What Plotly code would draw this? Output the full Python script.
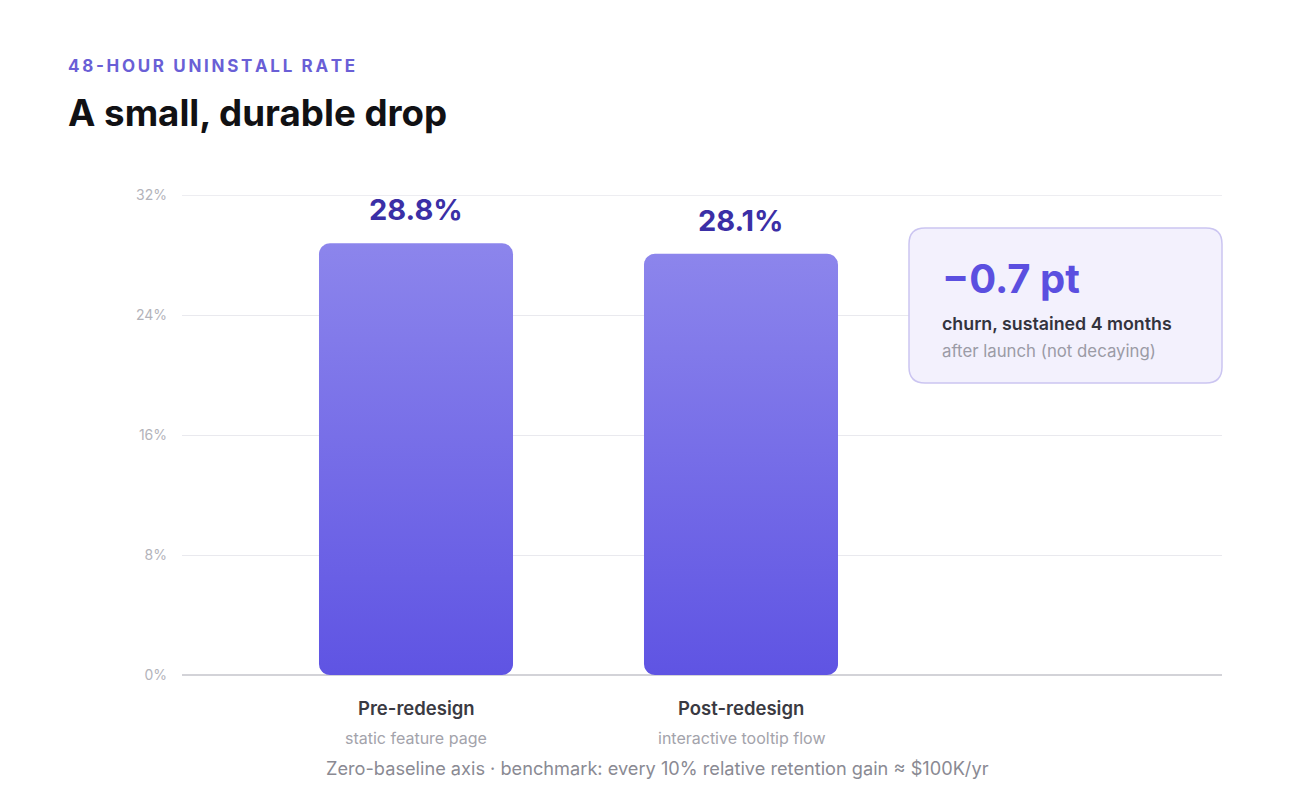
import plotly.graph_objects as go
import math

# ---------------- data ----------------
categories = ["Pre-redesign", "Post-redesign"]
subtitles = ["static feature page", "interactive tooltip flow"]
rates = [28.8, 28.1]
value_labels = ["28.8%", "28.1%"]
y_ticks = [0, 8, 16, 24, 32]
y_tick_labels = ["0%", "8%", "16%", "24%", "32%"]
delta_label = "\u22120.7 pt"
kicker = "48-HOUR UNINSTALL RATE"
title = "A small, durable drop"
callout_line1 = "churn, sustained 4 months"
callout_line2 = "after launch (not decaying)"
footer = "Zero-baseline axis \u00b7 benchmark: every 10% relative retention gain \u2248 $100K/yr"

# ---------------- layout geometry ----------------
W, H = 1300, 806
ML, MR, MT, MB = 182, 78, 195, 131
PW, PH = W - ML - MR, H - MT - MB
X_RANGE = [-0.72, 2.48]
Y_RANGE = [0, 32.02]
px_x = PW / (X_RANGE[1] - X_RANGE[0])
px_y = PH / (Y_RANGE[1] - Y_RANGE[0])
BAR_W = 0.597
RADIUS = 11  # px


def rounded_rect(x0, x1, y0, y1, r):
    rx, ry = r / px_x, r / px_y
    xs, ys = [], []

    def arc(cx, cy, a0, a1, n=10):
        for k in range(n + 1):
            a = a0 + (a1 - a0) * k / n
            xs.append(cx + rx * math.cos(a))
            ys.append(cy + ry * math.sin(a))
    arc(x1 - rx, y0 + ry, -math.pi / 2, 0)
    arc(x1 - rx, y1 - ry, 0, math.pi / 2)
    arc(x0 + rx, y1 - ry, math.pi / 2, math.pi)
    arc(x0 + rx, y0 + ry, math.pi, 3 * math.pi / 2)
    xs.append(xs[0]); ys.append(ys[0])
    return xs, ys


FONT = "Inter"
fig = go.Figure()

# top gridline (plotly omits gridlines at the plot edge)
fig.add_shape(type="line", xref="paper", yref="y", x0=0, x1=1,
              y0=y_ticks[-1], y1=y_ticks[-1],
              line=dict(color="#e9e9ee", width=1), layer="below")

for i, (cat, v) in enumerate(zip(categories, rates)):
    xs, ys = rounded_rect(i - BAR_W / 2, i + BAR_W / 2, 0, v, RADIUS)
    fig.add_trace(go.Scatter(
        x=xs, y=ys, mode="lines", fill="toself", name=cat,
        line=dict(width=0, color="rgba(0,0,0,0)"),
        fillgradient=dict(type="vertical", start=0, stop=v,
                          colorscale=[[0, "#5f54e3"], [1, "#8c85ec"]]),
        hoverinfo="skip", showlegend=False,
    ))
    fig.add_annotation(x=i, y=v, xref="x", yref="y", text=value_labels[i],
                       showarrow=False, yanchor="bottom", yshift=14,
                       font=dict(family=FONT, size=29, color="#3b2fa6", weight=700))
    fig.add_annotation(x=i, y=0, xref="x", yref="y", text=cat, showarrow=False,
                       yanchor="middle", yshift=-33,
                       font=dict(family=FONT, size=18.5, color="#3a3a42", weight=600))
    fig.add_annotation(x=i, y=0, xref="x", yref="y", text=subtitles[i], showarrow=False,
                       yanchor="middle", yshift=-63,
                       font=dict(family=FONT, size=16, color="#a3a3ab"))

# callout box (pixel-sized rounded rect anchored at plot bottom-left)
bx0, bx1 = 909 - ML, 1222 - ML
by0, by1 = (MT + PH) - 383, (MT + PH) - 228
r = 16
path = (f"M {bx0 + r},{by0} L {bx1 - r},{by0} Q {bx1},{by0} {bx1},{by0 + r} "
        f"L {bx1},{by1 - r} Q {bx1},{by1} {bx1 - r},{by1} "
        f"L {bx0 + r},{by1} Q {bx0},{by1} {bx0},{by1 - r} "
        f"L {bx0},{by0 + r} Q {bx0},{by0} {bx0 + r},{by0} Z")
fig.add_shape(type="path", path=path, xref="paper", yref="paper",
              xsizemode="pixel", ysizemode="pixel", xanchor=0, yanchor=0,
              fillcolor="#f3f1fd", line=dict(color="#cbc5f1", width=1.5), layer="above")


def paper_x(px):
    return (px - ML) / PW


def paper_y(py):
    return (MT + PH - py) / PH


fig.add_annotation(x=paper_x(940), y=paper_y(278), xref="paper", yref="paper",
                   text=delta_label, showarrow=False, xanchor="left", yanchor="middle",
                   font=dict(family=FONT, size=40, color="#5b4fe0", weight=700))
fig.add_annotation(x=paper_x(940), y=paper_y(323), xref="paper", yref="paper",
                   text=callout_line1, showarrow=False, xanchor="left", yanchor="middle",
                   font=dict(family=FONT, size=17.8, color="#33333d", weight=600))
fig.add_annotation(x=paper_x(940), y=paper_y(351), xref="paper", yref="paper",
                   text=callout_line2, showarrow=False, xanchor="left", yanchor="middle",
                   font=dict(family=FONT, size=16.8, color="#9b9ba6"))

# header texts
spaced_kicker = "\u2009".join(list(kicker))
fig.add_annotation(x=paper_x(66), y=paper_y(66), xref="paper", yref="paper",
                   text=spaced_kicker, showarrow=False, xanchor="left", yanchor="middle",
                   font=dict(family=FONT, size=17, color="#6a5fd6", weight=700))
fig.add_annotation(x=paper_x(66), y=paper_y(112), xref="paper", yref="paper",
                   text=title, showarrow=False, xanchor="left", yanchor="middle",
                   font=dict(family=FONT, size=36.7, color="#111114", weight=700))
fig.add_annotation(x=paper_x(657), y=paper_y(768), xref="paper", yref="paper",
                   text=footer, showarrow=False, xanchor="center", yanchor="middle",
                   font=dict(family=FONT, size=18.2, color="#8a8a93"))

fig.update_layout(
    width=W, height=H,
    margin=dict(l=ML, r=MR, t=MT, b=MB),
    paper_bgcolor="white", plot_bgcolor="white",
    showlegend=False,
    xaxis=dict(range=X_RANGE, visible=False, fixedrange=True),
    yaxis=dict(range=Y_RANGE, tickvals=y_ticks, ticktext=y_tick_labels,
               showgrid=True, gridcolor="#e9e9ee", gridwidth=1,
               zeroline=True, zerolinecolor="#d3d3d8", zerolinewidth=1.5,
               showline=False, ticks="", ticklabelstandoff=14,
               tickfont=dict(family=FONT, size=14, color="#b3b3ba"),
               fixedrange=True),
)

fig.write_html("out.html")
